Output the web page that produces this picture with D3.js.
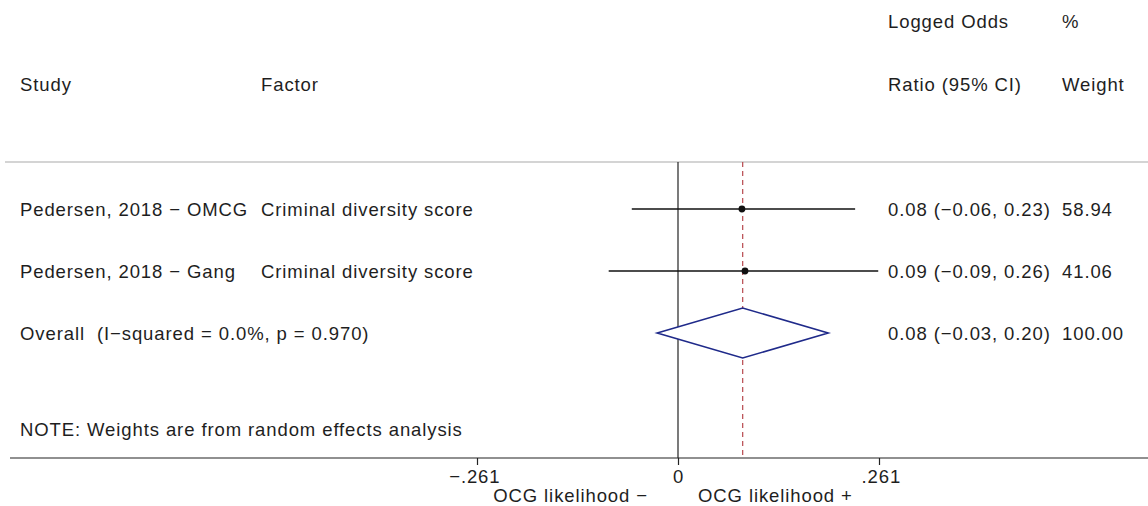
<!DOCTYPE html>
<html>
<head>
<meta charset="utf-8">
<script src="https://cdn.jsdelivr.net/npm/d3@7"></script>
<style>
  body { margin: 0; background: #fff; }
  text { font-family: "Liberation Sans", Arial, sans-serif; font-size: 18.5px; letter-spacing: 0.9px; fill: #1e1e1e; white-space: pre; }
</style>
</head>
<body>
<svg width="1148" height="506"></svg>
<script>
// study rows
var studies = ["Pedersen, 2018 - OMCG", "Pedersen, 2018 - Gang"];
var factors = ["Criminal diversity score", "Criminal diversity score"];
var estimates = [0.083, 0.087];
var lower = [-0.06, -0.09];
var upper = [0.23, 0.26];
var ciLabels = ["0.08 (\u22120.06, 0.23)", "0.09 (\u22120.09, 0.26)"];
var weights = ["58.94", "41.06"];

// pooled result
var overall = { est: 0.084, lo: -0.027, hi: 0.195,
  label: "Overall  (I\u2212squared = 0.0%, p = 0.970)",
  ci: "0.08 (\u22120.03, 0.20)", weight: "100.00" };

var tickValues = [-0.261, 0, 0.261];
var tickLabels = ["\u2212.261", "0", ".261"];

var svg = d3.select("svg"),
    width = +svg.attr("width"),
    height = +svg.attr("height");

var x = d3.scaleLinear().domain([-0.261, 0.261]).range([477, 879]);
var rowY = d3.scalePoint().domain(["r0", "r1", "overall"]).range([209, 333]);

var topY = 162, axisY = 458;

// header
var header = svg.append("g");
header.append("text").attr("x", 20).attr("y", 91).text("Study");
header.append("text").attr("x", 261).attr("y", 91).text("Factor");
header.append("text").attr("x", 888).attr("y", 28).text("Logged Odds");
header.append("text").attr("x", 888).attr("y", 91).text("Ratio (95% CI)");
header.append("text").attr("x", 1062).attr("y", 28).text("%");
header.append("text").attr("x", 1062).attr("y", 91).text("Weight");

// separator
svg.append("line")
  .attr("x1", 5).attr("x2", width).attr("y1", topY).attr("y2", topY)
  .style("stroke", "#d4d4d4").style("stroke-width", 2);

// null line
svg.append("line")
  .attr("x1", x(0)).attr("x2", x(0)).attr("y1", topY).attr("y2", axisY)
  .style("stroke", "#222").style("stroke-width", 1.2);

// overall effect dashed line
svg.append("line")
  .attr("x1", x(overall.est)).attr("x2", x(overall.est)).attr("y1", topY).attr("y2", axisY)
  .style("stroke", "#b8484e").style("stroke-width", 1.2)
  .style("stroke-dasharray", "5,4");

// study rows
var rows = svg.append("g").selectAll("g")
  .data(studies)
  .enter().append("g")
  .attr("transform", function (d, i) { return "translate(0," + rowY("r" + i) + ")"; });

rows.append("line")
  .attr("x1", function (d, i) { return x(lower[i]); })
  .attr("x2", function (d, i) { return x(upper[i]); })
  .style("stroke", "#111").style("stroke-width", 1.6);

rows.append("circle")
  .attr("cx", function (d, i) { return x(estimates[i]); })
  .attr("r", 3.4)
  .attr("fill", "#111");

rows.append("text").attr("x", 20).attr("y", 7).text(function (d) { return d.replace("-", "\u2212"); });
rows.append("text").attr("x", 261).attr("y", 7).text(function (d, i) { return factors[i]; });
rows.append("text").attr("x", 888).attr("y", 7).text(function (d, i) { return ciLabels[i]; });
rows.append("text").attr("x", 1062).attr("y", 7).text(function (d, i) { return weights[i]; });

// overall diamond
var oy = rowY("overall");
svg.append("path")
  .attr("d", d3.line()([
    [x(overall.lo), oy], [x(overall.est), oy - 25],
    [x(overall.hi), oy], [x(overall.est), oy + 25]
  ]) + "Z")
  .attr("fill", "#fff")
  .style("stroke", "#1f2a8a").style("stroke-width", 1.6);

svg.append("text").attr("x", 20).attr("y", oy + 7).text(overall.label);
svg.append("text").attr("x", 888).attr("y", oy + 7).text(overall.ci);
svg.append("text").attr("x", 1062).attr("y", oy + 7).text(overall.weight);

svg.append("text").attr("x", 20).attr("y", 436).text("NOTE: Weights are from random effects analysis");

// axis
svg.append("line")
  .attr("x1", 10).attr("x2", width).attr("y1", axisY).attr("y2", axisY)
  .style("stroke", "#222").style("stroke-width", 1.2);

var axis = d3.axisBottom(x)
  .tickValues(tickValues)
  .tickSize(7)
  .tickFormat(function (d, i) { return tickLabels[i]; });

var ax = svg.append("g")
  .attr("transform", "translate(0," + axisY + ")")
  .call(axis);
ax.select(".domain").remove();
ax.selectAll(".tick line").style("stroke", "#222").style("stroke-width", 1.2);
ax.selectAll(".tick text")
  .attr("dy", null).attr("y", 25)
  .style("font-size", "18.5px")
  .style("font-family", "Liberation Sans, Arial, sans-serif")
  .style("fill", "#1e1e1e")
  .attr("text-anchor", function (d, i) { return i === 0 ? "end" : (i === 2 ? "start" : "middle"); })
  .attr("dx", function (d, i) { return i === 0 ? 23 : (i === 2 ? -18 : 0); });

svg.append("text").attr("x", 648).attr("y", 502).attr("text-anchor", "end").text("OCG likelihood \u2212");
svg.append("text").attr("x", 698).attr("y", 502).text("OCG likelihood +");
</script>
</body>
</html>
